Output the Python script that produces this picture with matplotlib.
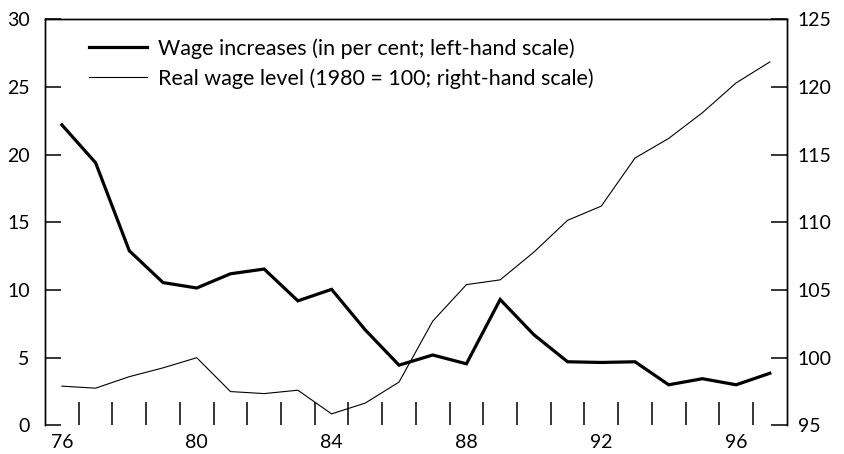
import numpy as np
import matplotlib
matplotlib.use("Agg")
import matplotlib.pyplot as plt
from matplotlib.ticker import MultipleLocator

plt.rcParams['font.family'] = ['Lato', 'DejaVu Sans']

# data
years = list(range(76, 98))
wage_increase = [22.2, 19.4, 12.9, 10.55, 10.15, 11.2, 11.55, 9.2, 10.05, 7.05, 4.45,
                 5.2, 4.55, 9.3, 6.7, 4.7, 4.65, 4.7, 3.0, 3.45, 3.0, 3.85]
real_wage = [97.9, 97.75, 98.6, 99.25, 100.0, 97.5, 97.35, 97.6, 95.85, 96.65, 98.2,
             102.7, 105.4, 105.75, 107.8, 110.15, 111.2, 114.75, 116.2, 118.1, 120.3, 121.85]

label_wage = "Wage increases (in per cent; left-hand scale)"
label_real = "Real wage level (1980 = 100; right-hand scale)"

fig = plt.figure(figsize=(8.45, 4.54), dpi=100)
ax = fig.add_axes([0.0533, 0.063, 0.8777, 0.8945])
ax2 = ax.twinx()

l1, = ax.plot(years, wage_increase, color="black", lw=2.3, solid_joinstyle="miter")
l2, = ax2.plot(years, real_wage, color="black", lw=0.8)

ax.set_xlim(75.5, 97.5)
ax.set_ylim(0, 30)
ax2.set_ylim(95, 125)

# year labels every 4 years, small ticks in between (half-years)
ax.set_xticks(range(76, 97, 4))
ax.set_xticklabels([str(y) for y in range(76, 97, 4)])
ax.set_xticks(np.arange(76.5, 97, 1.0), minor=True)
ax.tick_params(axis="x", which="major", length=0, pad=6, labelsize=14)
ax.tick_params(axis="x", which="minor", direction="in", length=16.5, width=1.1)

ax.yaxis.set_major_locator(MultipleLocator(5))
ax2.yaxis.set_major_locator(MultipleLocator(5))
ax.tick_params(axis="y", direction="in", length=11.5, width=1.1, pad=11, labelsize=14)
ax2.tick_params(axis="y", direction="in", length=11.5, width=1.1, pad=8, labelsize=14)

for a in (ax, ax2):
    a.spines["bottom"].set_visible(False)
    for s in ("top", "left", "right"):
        a.spines[s].set_linewidth(1.0)

leg = ax.legend([l1, l2], [label_wage, label_real], loc="upper left",
                bbox_to_anchor=(0.048, 0.975), frameon=False, fontsize=15.5,
                handlelength=2.7, handletextpad=0.5, labelspacing=0.45,
                borderaxespad=0)

fig.savefig("out.png", dpi=100)
